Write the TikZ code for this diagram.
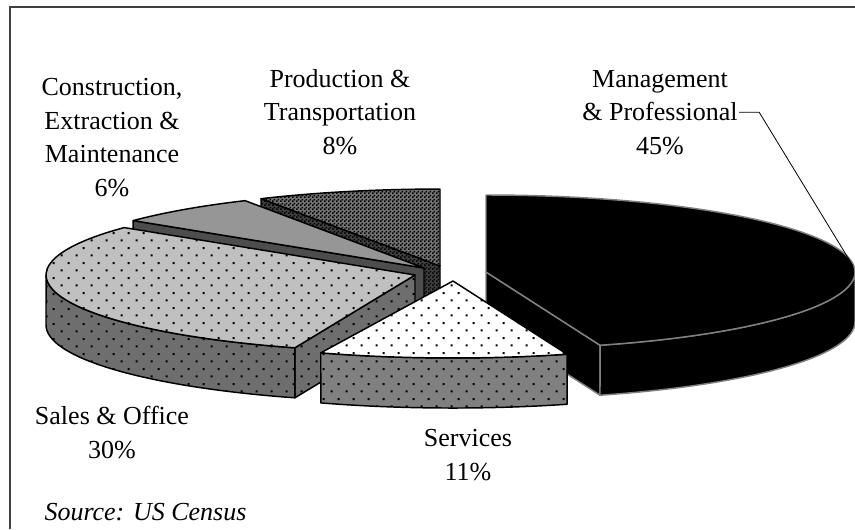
\documentclass[tikz,border=0pt]{standalone}
\usepackage{fontspec}
\setmainfont{Liberation Serif}
\usetikzlibrary{patterns.meta}

\tikzdeclarepattern{name=piedots, type=uncolored,
  bottom left={(0pt,0pt)}, top right={(11.25pt,11.4pt)},
  tile size={(11.25pt,11.4pt)},
  code={\tikzset{x=1pt,y=1pt}
    \fill (0.5,0.5) rectangle (2,2);
    \fill (6.1,6.2) rectangle (7.6,7.7);}}
\tikzdeclarepattern{name=piechecks, type=uncolored,
  bottom left={(0pt,0pt)}, top right={(3pt,3pt)},
  tile size={(3pt,3pt)},
  code={\tikzset{x=1pt,y=1pt}
    \fill (0,0) rectangle (1.5,1.5);
    \fill (1.5,1.5) rectangle (3,3);}}

\tikzset{every picture/.style={line width=0.75pt},
  slice/.style={draw=black, line width=1.1pt, line join=round},
  mgmtslice/.style={fill=black, draw={rgb,255:red,128;green,128;blue,128}, line width=1.1pt, line join=round},
  dotfill/.style={postaction={pattern=piedots, pattern color=black}},
  checkfill/.style={postaction={pattern=piechecks, pattern color=black}},
  lbl/.style={align=center, inner sep=0.75pt, font=\fontsize{19.5}{25.1}\selectfont}}

\newcommand{\pierx}{369}
\newcommand{\piery}{77}

\begin{document}
\begin{tikzpicture}[x=0.75pt,y=0.75pt,yscale=-1,xscale=1]
\useasboundingbox (0,0) rectangle (855,529);

%Shape: Frame
\draw [color={rgb, 255:red, 64; green, 64; blue, 64 }, line width=1.5pt]  (10,529) -- (10,7) -- (855,7) ;

%Shape: Production cut face
\draw [slice, fill={rgb, 255:red, 64; green, 64; blue, 64 }, checkfill]  (440,266) -- (261.1,198.7) -- (261.1,248.7) -- (440,316) -- cycle ;
%Shape: Production top
\draw [slice, fill={rgb, 255:red, 115; green, 115; blue, 115 }, checkfill]  (440,266) -- (261.1,198.7) arc[start angle=-119, end angle=-90, x radius=\pierx, y radius=\piery] -- cycle ;

%Shape: Construction cut face
\draw [slice, fill={rgb, 255:red, 77; green, 77; blue, 77 }]  (424,268) -- (133.2,220.6) -- (133.2,270.6) -- (424,318) -- cycle ;
%Shape: Construction top
\draw [slice, fill={rgb, 255:red, 150; green, 150; blue, 150 }]  (424,268) -- (133.2,220.6) arc[start angle=-142, end angle=-119, x radius=\pierx, y radius=\piery] -- cycle ;

%Shape: Sales cut face
\draw [slice, fill={rgb, 255:red, 110; green, 110; blue, 110 }, dotfill]  (415,275) -- (294.9,347.8) -- (294.9,397.8) -- (415,325) -- cycle ;
%Shape: Sales wall
\draw [slice, fill={rgb, 255:red, 110; green, 110; blue, 110 }, dotfill]  (294.9,347.8) arc[start angle=109, end angle=180, x radius=\pierx, y radius=\piery] -- (46,325) arc[start angle=180, end angle=109, x radius=\pierx, y radius=\piery] -- cycle ;
%Shape: Sales top
\draw [slice, fill={rgb, 255:red, 192; green, 192; blue, 192 }, dotfill]  (415,275) -- (294.9,347.8) arc[start angle=109, end angle=218, x radius=\pierx, y radius=\piery] -- cycle ;

%Shape: Management cut face
\draw [mgmtslice]  (486,272) -- (600,345.2) -- (600,395.2) -- (486,322) -- cycle ;
%Shape: Management wall
\draw [mgmtslice]  (855,272) arc[start angle=0, end angle=72, x radius=\pierx, y radius=\piery] -- (600,395.2) arc[start angle=72, end angle=0, x radius=\pierx, y radius=\piery] -- cycle ;
%Shape: Management top
\draw [mgmtslice]  (486,272) -- (486,195) arc[start angle=-90, end angle=72, x radius=\pierx, y radius=\piery] -- cycle ;

%Shape: Services wall
\draw [slice, fill={rgb, 255:red, 128; green, 128; blue, 128 }, dotfill]  (567,354.2) arc[start angle=72, end angle=111, x radius=\pierx, y radius=\piery] -- (320.8,402.9) arc[start angle=111, end angle=72, x radius=\pierx, y radius=\piery] -- cycle ;
%Shape: Services top
\draw [slice, fill=white, dotfill]  (453,281) -- (567,354.2) arc[start angle=72, end angle=111, x radius=\pierx, y radius=\piery] -- cycle ;

% Text Node
\node [lbl, anchor=base] (consLbl) at (112,196) {Construction,\\Extraction \&\\Maintenance\\6\%};
% Text Node
\node [lbl, anchor=base] (prodLbl) at (340,154) {Production \&\\Transportation\\8\%};
% Text Node
\node [lbl, anchor=base] (mgmtLbl) at (660,154) {Management\\\& Professional\\45\%};
% Text Node
\node [lbl, anchor=base] (salesLbl) at (112,458) {Sales \& Office\\30\%};
% Text Node
\node [lbl, anchor=base] (servLbl) at (468,480) {Services\\11\%};
% Text Node
\node [lbl, anchor=base west] (srcLbl) at (43,520) {\itshape Source: US Census};

%Straight Lines: leader
\coordinate (mgmtTip) at (853,266);
\draw [line width=0.6pt]  (mgmtLbl.east) -- ++(20,0) -- (mgmtTip) ;

\end{tikzpicture}
\end{document}
